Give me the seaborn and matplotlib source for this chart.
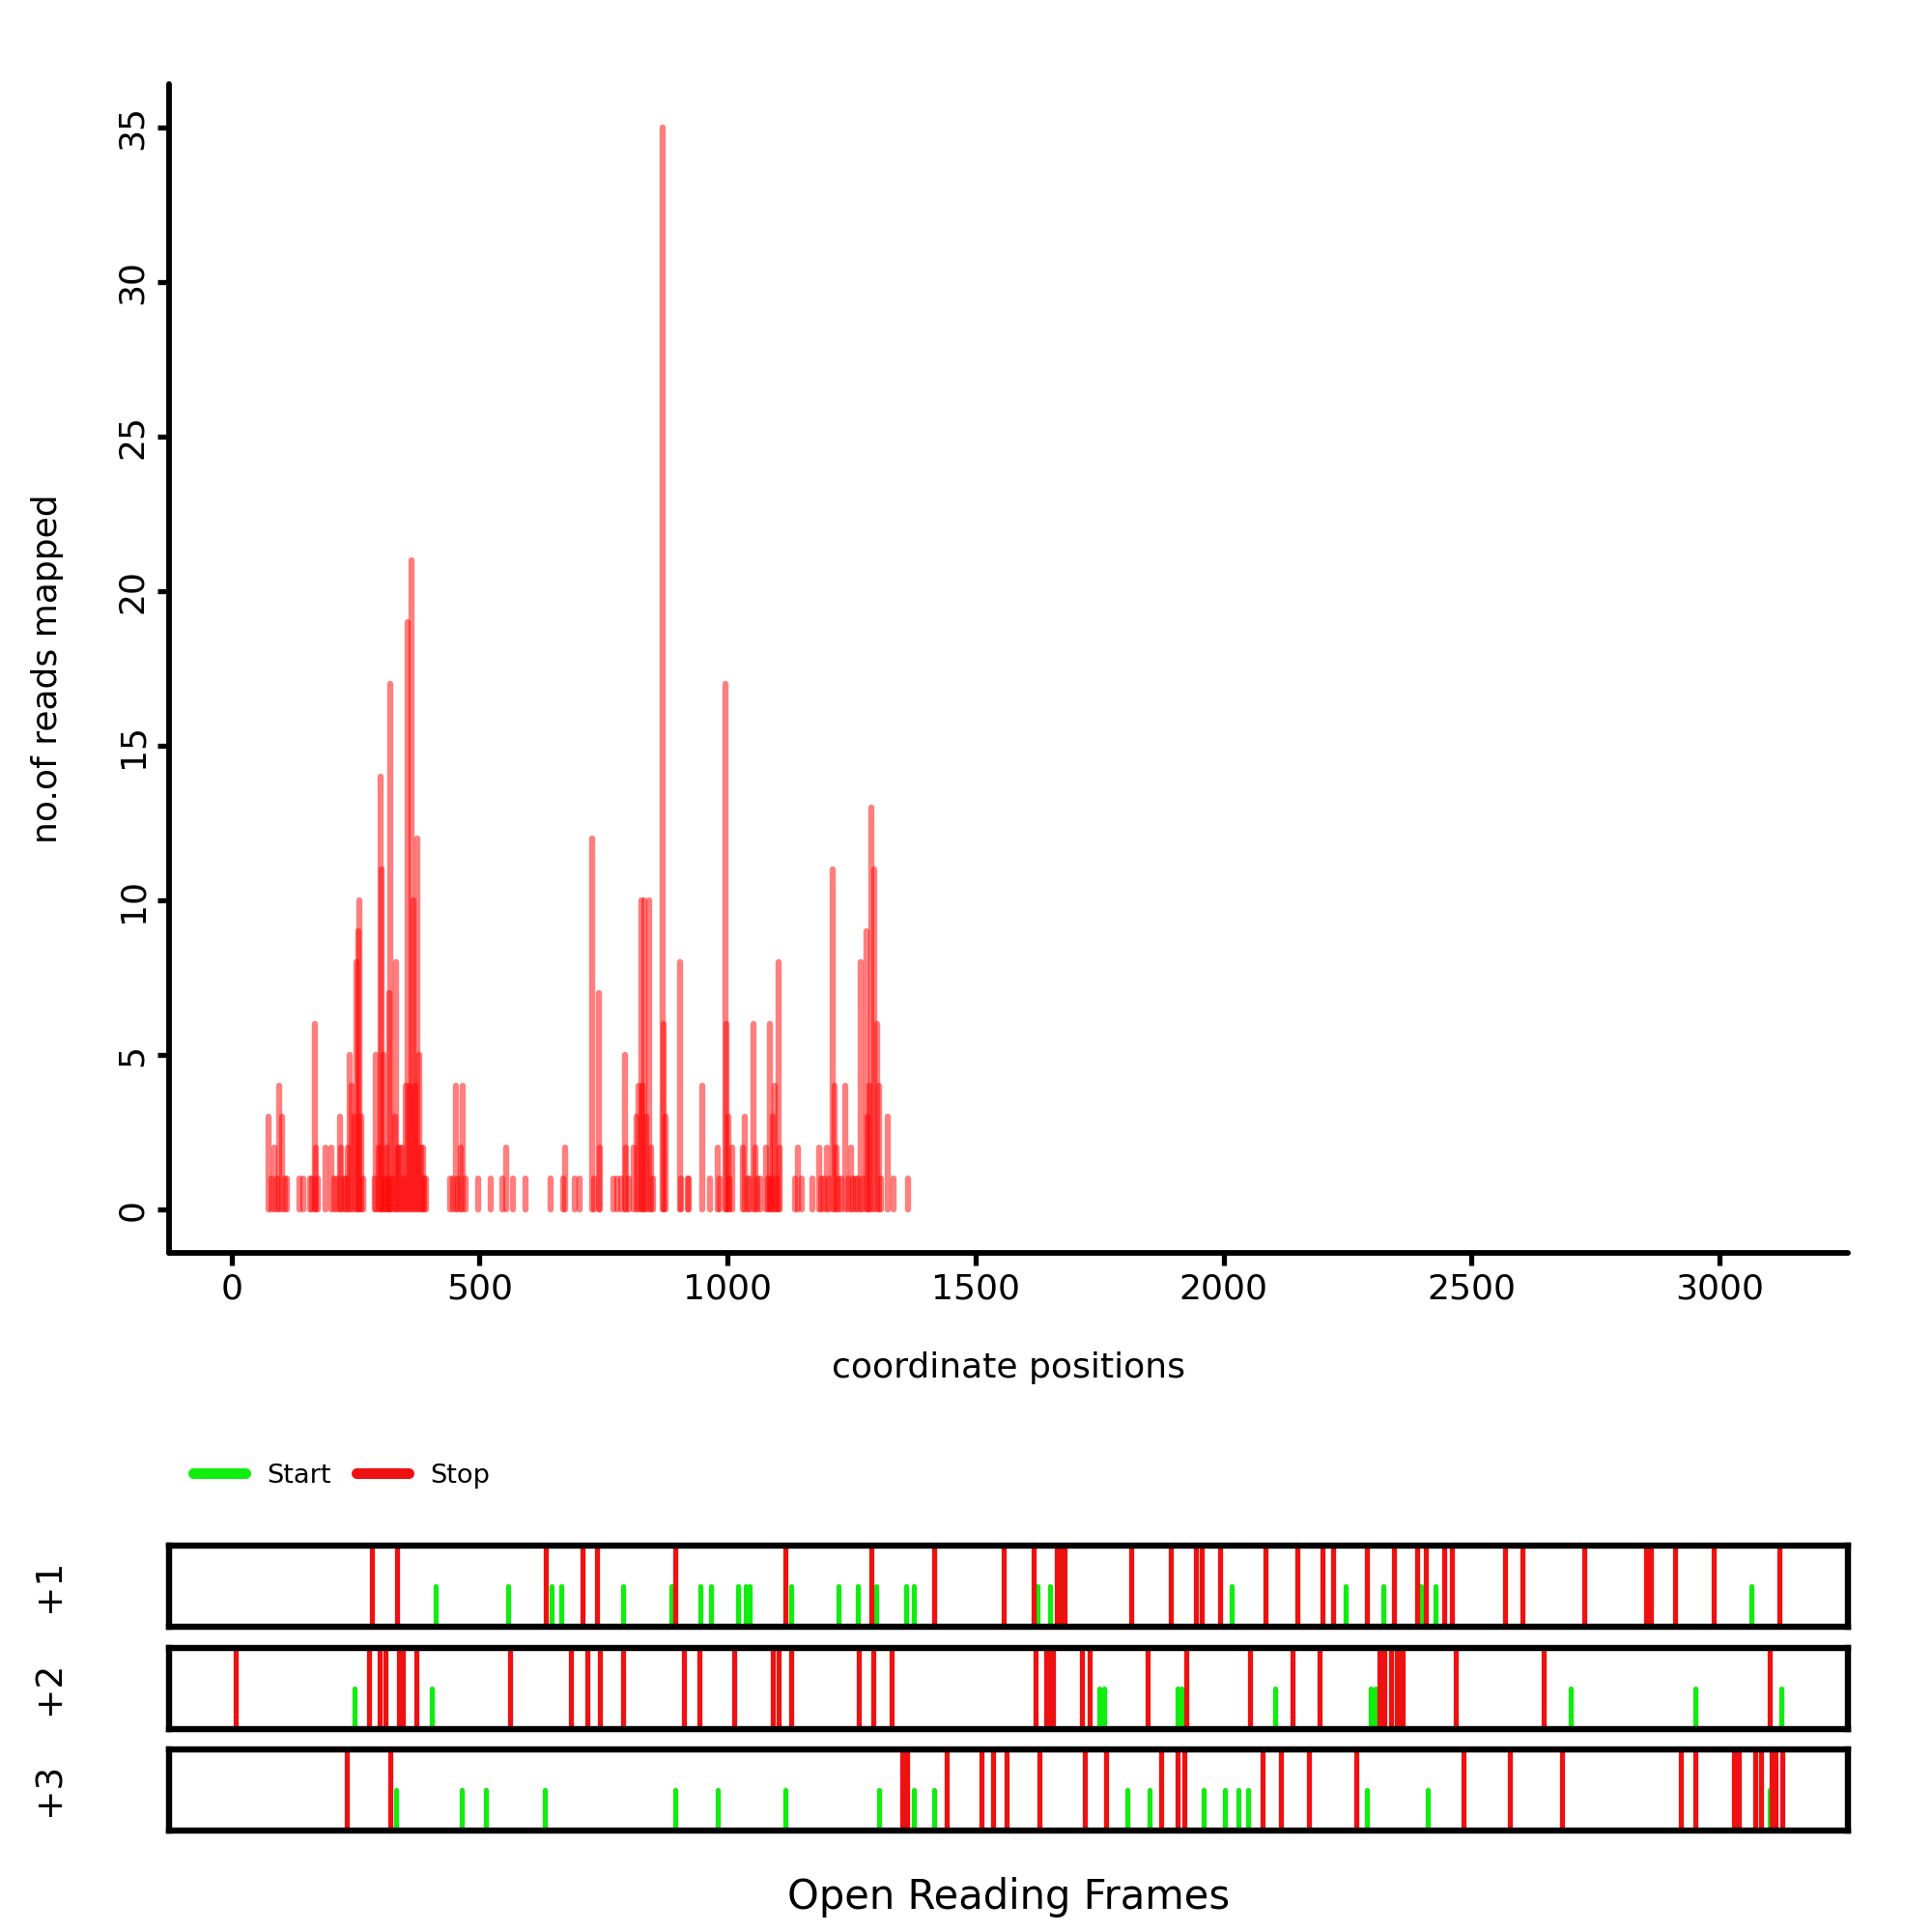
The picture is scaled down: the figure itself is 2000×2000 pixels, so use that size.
import numpy as np
import pandas as pd
import matplotlib
matplotlib.use("Agg")
import matplotlib.pyplot as plt
import seaborn as sns
from matplotlib.lines import Line2D

# ---------------- data ----------------
read_pos = [74, 80, 86, 92, 97, 102, 107, 112,
            136, 145,
            158, 162, 168, 170, 174,
            190,
            202, 207, 212, 218, 221, 226, 230, 235, 238, 243, 247, 251, 255, 258, 262, 265,
            288, 291, 296, 300, 303, 306, 309, 312, 316, 318, 320, 324, 329, 332, 336, 339,
            343, 348, 352, 355, 358, 362, 366, 370, 374, 378, 382, 386, 389, 393,
            441, 446, 452, 457, 462, 467, 471,
            498, 523, 545, 554, 568, 593, 644, 669, 672, 692, 701,
            727, 730, 740, 743,
            769, 778, 785, 793, 796, 802, 810, 817, 820, 826, 829, 833, 836, 842, 845, 849,
            870, 872, 875,
            904, 907, 919, 922,
            949, 965, 980, 985,
            995, 998, 1001, 1004,
            1010, 1031, 1035, 1040, 1045, 1052, 1057, 1060, 1065,
            1078, 1082, 1085, 1088, 1091, 1096, 1099, 1102, 1105,
            1136, 1142, 1149,
            1172, 1184, 1188, 1195,
            1201, 1205, 1212, 1215, 1220, 1224, 1230,
            1237, 1243, 1250, 1253, 1258, 1262, 1268, 1273, 1280, 1283, 1287, 1290, 1295,
            1302, 1305, 1310, 1323, 1335, 1364]
read_cnt = [3, 1, 2, 1, 4, 3, 1, 1,
            1, 1,
            1, 1, 6, 2, 1,
            2,
            2, 1, 1, 3, 2, 1, 1, 2, 5, 4, 3, 8, 9, 10, 3, 1,
            1, 5, 2, 14, 11, 5, 1, 2, 1, 7, 17, 1, 3, 8, 2, 2,
            2, 1, 4, 19, 4, 21, 10, 4, 12, 5, 2, 2, 1, 1,
            1, 1, 4, 1, 2, 4, 1,
            1, 1, 1, 2, 1, 1, 1, 1, 2, 1, 1,
            12, 1, 7, 2,
            1, 1, 1, 5, 2, 1, 2, 3, 4, 10, 4, 10, 3, 10, 2, 1,
            35, 6, 3,
            8, 1, 1, 1,
            4, 1, 2, 1,
            17, 6, 3, 1,
            2, 2, 3, 1, 1, 6, 2, 1, 1,
            2, 1, 6, 1, 3, 4, 1, 8, 2,
            1, 2, 1,
            1, 2, 1, 1,
            2, 1, 11, 4, 2, 1, 1,
            4, 1, 2, 1, 1, 1, 8, 1, 9, 3, 4, 13, 11,
            6, 4, 1, 3, 1, 1]

frame_labels = ["+1", "+2", "+3"]

f1_start = [412, 558, 646, 664, 790, 887, 946, 967, 1021, 1036, 1045, 1129, 1224, 1263,
            1300, 1361, 1375, 1624, 1650, 2017, 2247, 2323, 2399, 2428, 3064]
f1_stop = [283, 333, 634, 708, 736, 895, 1116, 1290, 1416, 1557, 1618, 1664, 1672, 1680,
           1813, 1894, 1945, 1957, 1993, 2085, 2149, 2199, 2221, 2290, 2344, 2390, 2407,
           2444, 2461, 2568, 2602, 2728, 2851, 2856, 2861, 2911, 2989, 3121]

f2_start = [248, 403, 1750, 1760, 1908, 1915, 2105, 2297, 2306, 2701, 2951, 3124]
f2_stop = [8, 277, 298, 310, 337, 345, 373, 562, 685, 718, 742, 790, 913, 943, 1013, 1091,
           1103, 1129, 1264, 1294, 1331, 1622, 1642, 1649, 1656, 1715, 1730, 1846, 1924,
           2054, 2140, 2193, 2315, 2320, 2324, 2338, 2350, 2355, 2361, 2468, 2645, 3101]

f3_start = [332, 465, 512, 632, 894, 981, 1116, 1305, 1376, 1416, 1806, 1851, 1959, 2003,
            2031, 2050, 2289, 2412, 3102]
f3_stop = [233, 320, 1352, 1357, 1362, 1442, 1511, 1535, 1562, 1629, 1721, 1764, 1875, 1908,
           1920, 2079, 2115, 2172, 2267, 2483, 2577, 2682, 2922, 2952, 3029, 3034, 3038,
           3072, 3083, 3106, 3113, 3126]

frame_starts = [f1_start, f2_start, f3_start]
frame_stops = [f1_stop, f2_stop, f3_stop]

# ---------------- style ----------------
sns.set_theme(style="ticks", rc={
    "axes.edgecolor": "black", "xtick.color": "black", "ytick.color": "black",
    "text.color": "black", "axes.labelcolor": "black",
    "axes.facecolor": "white", "figure.facecolor": "white"})
plt.rcParams["font.family"] = ["DejaVu Sans"]

XLIM = (-126, 3259)
START_COL = "#10EE10"
STOP_COL = "#EE1111"


def segments(pos, top, bottom=0.0):
    n = len(pos)
    return pd.DataFrame({
        "pos": np.repeat(np.asarray(pos, float), 2),
        "val": np.column_stack([np.full(n, bottom), np.broadcast_to(np.asarray(top, float), (n,))]).ravel(),
        "id": np.repeat(np.arange(n), 2),
    })


fig = plt.figure(figsize=(10, 10), dpi=200)

# ---------------- coverage panel ----------------
ax = fig.add_axes([0.0875, 0.3515, 0.869, 0.605])
sns.lineplot(data=segments(read_pos, read_cnt), x="pos", y="val", units="id",
             estimator=None, sort=False, color="#FF0000", alpha=0.5, linewidth=2.3,
             solid_capstyle="round", legend=False, ax=ax)
ax.set_xlim(*XLIM)
ax.set_ylim(-1.4, 36.4)
ax.set_xticks([0, 500, 1000, 1500, 2000, 2500, 3000])
ax.set_yticks([0, 5, 10, 15, 20, 25, 30, 35])
for s in ["top", "right"]:
    ax.spines[s].set_visible(False)
for s in ["left", "bottom"]:
    ax.spines[s].set_linewidth(2.1)
    ax.spines[s].set_capstyle("round")
ax.tick_params(width=1.9, length=4.5, labelsize=13, pad=3, direction="out")
for lab in ax.get_yticklabels():
    lab.set_rotation(90)
    lab.set_va("center")
ax.set_xlabel("coordinate positions", fontsize=13)
ax.set_ylabel("no.of reads mapped", fontsize=13)
ax.xaxis.set_label_coords(0.5, -0.084)
ax.yaxis.set_label_coords(-0.063, 0.5)

# ---------------- ORF tracks ----------------
track_bottoms = [0.158, 0.105, 0.0525]
track_h = 0.0422
for i in range(3):
    tax = fig.add_axes([0.0875, track_bottoms[i], 0.869, track_h])
    sns.lineplot(data=segments(frame_starts[i], 0.5), x="pos", y="val", units="id",
                 estimator=None, sort=False, color=START_COL, linewidth=1.9,
                 solid_capstyle="round", legend=False, ax=tax)
    sns.lineplot(data=segments(frame_stops[i], 1.05, -0.05), x="pos", y="val", units="id",
                 estimator=None, sort=False, color=STOP_COL, linewidth=1.9,
                 solid_capstyle="butt", legend=False, ax=tax)
    tax.set_xlim(*XLIM)
    tax.set_ylim(0, 1)
    tax.set_xticks([])
    tax.set_yticks([])
    tax.set_xlabel("")
    tax.set_ylabel("")
    for s in tax.spines.values():
        s.set_visible(True)
        s.set_linewidth(2.3)
        s.set_color("black")
        s.set_zorder(5)
    fig.text(0.0255, track_bottoms[i] + track_h / 2, frame_labels[i], rotation=90,
             ha="center", va="center", fontsize=13.5)

fig.text(0.522, 0.018, "Open Reading Frames", ha="center", va="center", fontsize=15)

handles = [Line2D([0], [0], color=START_COL, lw=4, solid_capstyle="round"),
           Line2D([0], [0], color=STOP_COL, lw=4, solid_capstyle="round")]
fig.legend(handles=handles, labels=["Start", "Stop"], loc="center left",
           bbox_to_anchor=(0.1, 0.236), ncol=2, frameon=False, fontsize=9.8,
           handlelength=2.0, handletextpad=0.8, columnspacing=0.95,
           borderpad=0, borderaxespad=0)

fig.savefig("out.png", dpi=200, facecolor="white")
